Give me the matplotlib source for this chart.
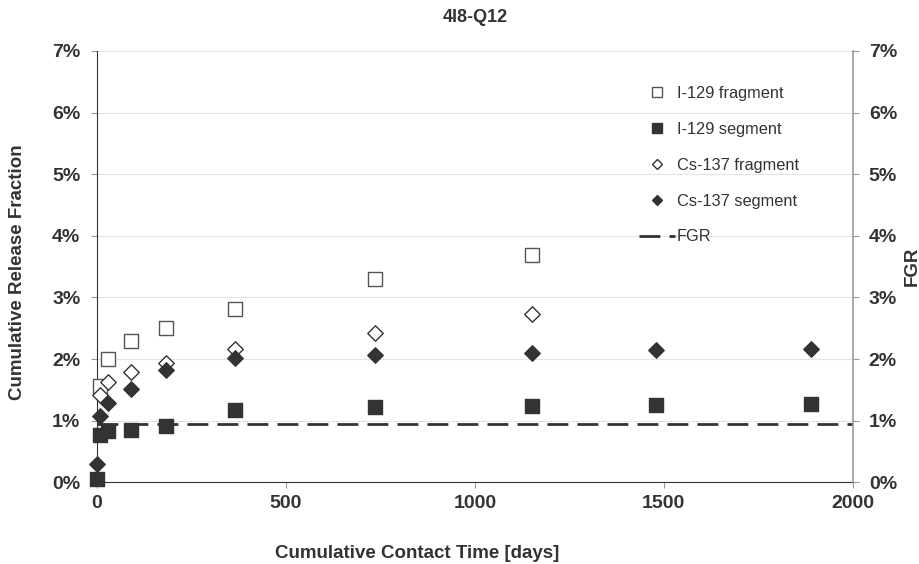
import numpy as np
import matplotlib
matplotlib.use("Agg")
import matplotlib.pyplot as plt
from matplotlib.lines import Line2D
from matplotlib.ticker import FuncFormatter

plt.rcParams['font.family'] = ['Liberation Sans', 'DejaVu Sans']

# data (days, percent)
days_frag = [7, 28, 91, 182, 365, 735, 1150]
days_seg = [0, 7, 28, 91, 182, 365, 735, 1150, 1478, 1890]
i129_fragment = [1.56, 2.00, 2.29, 2.50, 2.82, 3.30, 3.69]
i129_segment = [0.05, 0.77, 0.83, 0.85, 0.92, 1.18, 1.22, 1.23, 1.25, 1.27]
cs137_fragment = [1.42, 1.62, 1.79, 1.93, 2.16, 2.42, 2.73]
cs137_segment = [0.30, 1.07, 1.28, 1.52, 1.82, 2.02, 2.06, 2.10, 2.14, 2.17]
fgr = 0.95
labels = ["I-129 fragment", "I-129 segment", "Cs-137 fragment", "Cs-137 segment", "FGR"]

dark = "#333333"

fig = plt.figure(figsize=(9.2, 5.64), dpi=100)
ax = fig.add_axes([0.1054, 0.1449, 0.8216, 0.7647])

ax.scatter(days_frag, i129_fragment, marker="s", s=110, facecolor="white", edgecolor="#555555",
           linewidth=1.0, zorder=3, clip_on=False)
ax.scatter(days_seg, i129_segment, marker="s", s=110, facecolor=dark, edgecolor=dark, zorder=3, clip_on=False)
ax.scatter(days_frag, cs137_fragment, marker="D", s=62, facecolor="white", edgecolor=dark,
           linewidth=1.0, zorder=4, clip_on=False)
ax.scatter(days_seg, cs137_segment, marker="D", s=62, facecolor=dark, edgecolor=dark, zorder=4, clip_on=False)
ax.plot([0, 2000], [fgr, fgr], color=dark, linewidth=2.0, dashes=(7.5, 3.3), zorder=2)

ax.set_xlim(0, 2000)
ax.set_ylim(0, 7)
ax.set_xticks([0, 500, 1000, 1500, 2000])
ax.set_yticks(range(8))
pct = FuncFormatter(lambda v, p: "%d%%" % v)
ax.yaxis.set_major_formatter(pct)
ax.grid(axis="y", color="#e4e4e4", linewidth=0.8, zorder=0)
ax.set_axisbelow(True)

for s in ["top", "right"]:
    ax.spines[s].set_visible(False)
ax.spines["left"].set_color(dark)
ax.spines["bottom"].set_color(dark)
ax.tick_params(axis="x", colors="#999999", labelcolor=dark, labelsize=14, length=4.5, pad=4.5)
ax.tick_params(axis="y", colors="#999999", labelcolor=dark, labelsize=14, length=4.5, pad=7.5)
for t in ax.get_xticklabels() + ax.get_yticklabels():
    t.set_fontweight("bold")

ax2 = ax.twinx()
ax2.set_ylim(0, 7)
ax2.set_yticks(range(8))
ax2.yaxis.set_major_formatter(pct)
for s in ["top", "left", "bottom"]:
    ax2.spines[s].set_visible(False)
ax2.spines["right"].set_color("#999999")
ax2.spines["right"].set_linewidth(1.2)
ax2.tick_params(axis="y", colors="#999999", labelcolor=dark, labelsize=14, length=4.5, pad=7)
for t in ax2.get_yticklabels():
    t.set_fontweight("bold")

fig.text(475 / 920, 1 - 18 / 564, "4I8-Q12", fontsize=13, fontweight="bold", color=dark, ha="center", va="center")
fig.text(417 / 920, 1 - 554 / 564, "Cumulative Contact Time [days]", fontsize=13.5, fontweight="bold",
         color=dark, ha="center", va="center")
fig.text(18 / 920, 1 - 272 / 564, "Cumulative Release Fraction", fontsize=13.5, fontweight="bold",
         color=dark, ha="center", va="center", rotation=90)
fig.text(912 / 920, 1 - 266 / 564, "FGR", fontsize=13.5, fontweight="bold",
         color=dark, ha="center", va="center", rotation=90)

handles = [
    Line2D([], [], linestyle="none", marker="s", markersize=7, markerfacecolor="white", markeredgecolor="#555555"),
    Line2D([], [], linestyle="none", marker="s", markersize=7, markerfacecolor=dark, markeredgecolor=dark),
    Line2D([], [], linestyle="none", marker="D", markersize=5.5, markerfacecolor="white", markeredgecolor=dark),
    Line2D([], [], linestyle="none", marker="D", markersize=5.5, markerfacecolor=dark, markeredgecolor=dark),
    Line2D([], [], color=dark, linewidth=2.0, dashes=(7.5, 3.3)),
]
leg = ax2.legend(handles, labels, loc="upper left", bbox_to_anchor=(0.697, 0.954), frameon=False,
                 fontsize=11.8, labelspacing=1.28, handlelength=2.2, handletextpad=0.12)
for t in leg.get_texts():
    t.set_color(dark)

fig.savefig("out.png", dpi=100)
